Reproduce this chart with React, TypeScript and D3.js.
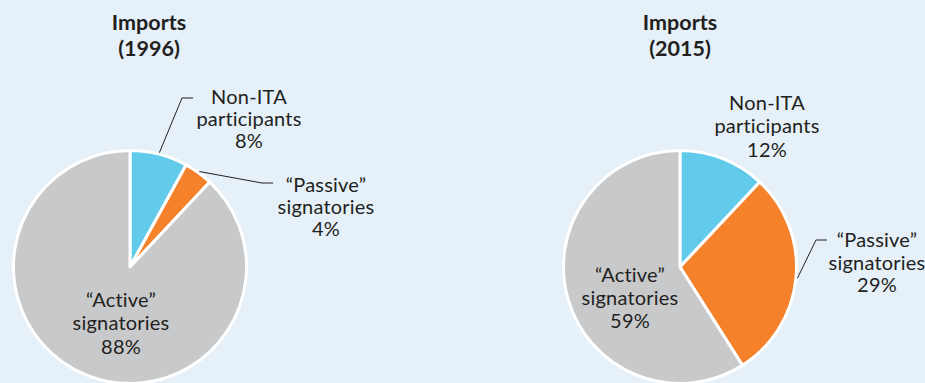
import React from "react";
import * as d3 from "d3";

// Import shares by ITA status, two years
const categories = ["Non-ITA participants", "“Passive” signatories", "“Active” signatories"];
const shares1996 = [8, 4, 88];
const shares2015 = [12, 29, 59];
const titles = [["Imports", "(1996)"], ["Imports", "(2015)"]];
const labelLines1996 = [["Non-ITA", "participants", "8%"], ["“Passive”", "signatories", "4%"], ["“Active”", "signatories", "88%"]];
const labelLines2015 = [["Non-ITA", "participants", "12%"], ["“Passive”", "signatories", "29%"], ["“Active”", "signatories", "59%"]];

const W = 925;
const H = 383;
const BG = "#e5f0f9";
const TEXT = "#231f20";
const FONT = "Lato, 'Open Sans', sans-serif";
const colors = d3.scaleOrdinal<string, string>().domain(categories).range(["#62cbec", "#f5812b", "#c8c9cb"]);

const R = 116.5;

type LabelSpec = {
  x: number;
  ys: number[];
  // leader elbow and end (absent when label needs no leader)
  leader?: [number, number][];
};

type PieSpec = {
  cx: number;
  cy: number;
  titleX: number;
  values: number[];
  lines: string[][];
  labels: LabelSpec[];
};

const pies: PieSpec[] = [
  {
    cx: 130,
    cy: 267,
    titleX: 149,
    values: shares1996,
    lines: labelLines1996,
    labels: [
      { x: 249, ys: [104, 126, 148], leader: [[182, 98], [193, 98]] },
      { x: 326, ys: [192, 214, 236], leader: [[262, 183], [273, 183]] },
      { x: 121, ys: [307, 330, 354] },
    ],
  },
  {
    cx: 680,
    cy: 267,
    titleX: 680,
    values: shares2015,
    lines: labelLines2015,
    labels: [
      { x: 767, ys: [110, 133, 157] },
      { x: 877, ys: [247, 270, 292], leader: [[816, 240], [827, 240]] },
      { x: 630, ys: [282, 305, 328] },
    ],
  },
];

const pieGen = d3.pie<number>().sort(null).value((d) => d);
const arcGen = d3.arc<d3.PieArcDatum<number>>().innerRadius(0).outerRadius(R);

export default function App() {
  return (
    <svg
      width={W}
      height={H}
      viewBox={`0 0 ${W} ${H}`}
      style={{ position: "absolute", left: 0, top: 0, display: "block" }}
      fontFamily={FONT}
    >
      <rect x={0} y={0} width={W} height={H} fill={BG} />
      {pies.map((p, pi) => {
        const arcs = pieGen(p.values);
        return (
          <g key={pi}>
            {titles[pi].map((t, i) => (
              <text
                key={i}
                x={p.titleX}
                y={30 + i * 26}
                textAnchor="middle"
                fontSize={21.5}
                fontWeight={700}
                fill={TEXT}
              >
                {t}
              </text>
            ))}
            <g transform={`translate(${p.cx},${p.cy})`}>
              {arcs.map((a, i) => (
                <path
                  key={i}
                  d={arcGen(a) || ""}
                  fill={colors(categories[i])}
                  stroke="#ffffff"
                  strokeWidth={3}
                  strokeLinejoin="round"
                />
              ))}
            </g>
            {p.labels.map((lab, i) => {
              const a = arcs[i];
              const mid = (a.startAngle + a.endAngle) / 2;
              const r0 = R + 1.5;
              const sx = p.cx + Math.sin(mid) * r0;
              const sy = p.cy - Math.cos(mid) * r0;
              return (
                <g key={i}>
                  {lab.leader && (
                    <polyline
                      points={[[sx, sy], ...lab.leader].map((q) => q.join(",")).join(" ")}
                      fill="none"
                      stroke={TEXT}
                      strokeWidth={1}
                    />
                  )}
                  {p.lines[i].map((ln, j) => (
                    <text key={j} x={lab.x} y={lab.ys[j]} textAnchor="middle" fontSize={20} letterSpacing={0.2} fill={TEXT}>
                      {ln}
                    </text>
                  ))}
                </g>
              );
            })}
          </g>
        );
      })}
    </svg>
  );
}
